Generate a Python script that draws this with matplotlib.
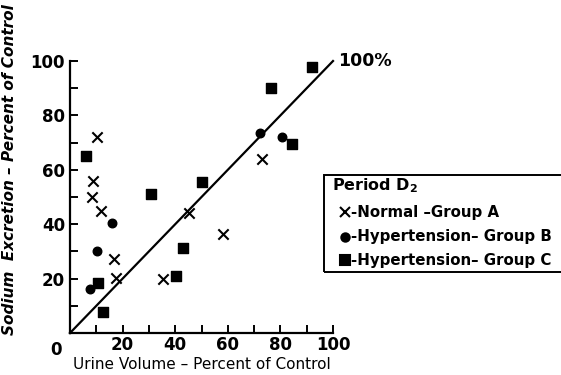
import numpy as np
import matplotlib.pyplot as plt
from matplotlib.patches import Rectangle

# === DATA ===
# Group A - normal (crosses)
a_x = [10.1, 8.9, 8.2, 11.8, 16.7, 17.5, 35.5, 45.2, 58.3, 73.1]
a_y = [72.1, 55.9, 50.1, 45.0, 27.3, 20.4, 19.9, 44.0, 36.4, 63.9]
# Group B - hypertension (dots)
b_x = [16.1, 10.1, 7.6, 72.2, 80.5]
b_y = [40.3, 30.3, 16.3, 73.7, 71.9]
# Group C - hypertension (squares)
c_x = [6.1, 10.5, 12.7, 30.8, 43.1, 40.3, 50.1, 76.3, 84.4, 92.1]
c_y = [64.9, 18.5, 7.9, 51.1, 31.1, 20.8, 55.4, 90.2, 69.4, 97.7]

ticks = [20, 40, 60, 80, 100]
line_x = [0, 100]

# === FIGURE ===
fig = plt.figure(figsize=(5.61, 3.75), dpi=100)
ax = fig.add_axes([0.1248, 0.112, 0.4688, 0.7253])

ax.plot(line_x, line_x, color="black", lw=1.6, clip_on=False)
ax.scatter(a_x, a_y, marker="x", s=55, color="black", linewidths=1.5, clip_on=False)
ax.scatter(b_x, b_y, marker="o", s=38, color="black", clip_on=False)
ax.scatter(c_x, c_y, marker="s", s=60, color="black", clip_on=False)

ax.set_xlim(0, 100)
ax.set_ylim(0, 100)
ax.spines["top"].set_visible(False)
ax.spines["right"].set_visible(False)
for sp in ["left", "bottom"]:
    ax.spines[sp].set_linewidth(1.6)

ax.set_xticks(ticks)
ax.set_yticks(ticks)
ax.set_xticks(np.arange(10, 101, 20), minor=True)
ax.set_yticks(np.arange(10, 101, 20), minor=True)
ax.tick_params(which="both", direction="in", length=6, width=1.4)
ax.tick_params(axis="x", pad=2)
ax.tick_params(labelsize=12)
for lab in ax.get_xticklabels() + ax.get_yticklabels():
    lab.set_fontweight("bold")

ax.text(-3, -3, "0", ha="right", va="top", fontsize=12, fontweight="bold")
ax.text(102, 100, "100%", ha="left", va="center", fontsize=12.5, fontweight="bold")

ax.set_xlabel("Urine Volume \u2013 Percent of Control", fontsize=11)
ax.xaxis.set_label_coords(0.5, -0.088)
ax.set_ylabel("Sodium  Excretion \u2013 Percent of Control", fontsize=11,
              style="italic", fontweight="bold")
ax.yaxis.set_label_coords(-0.2, 0.6)

# === LEGEND BOX ===
box = Rectangle((324 / 561, 1 - 272 / 375), 0.5, 97 / 375,
                transform=fig.transFigure, fill=False, lw=1.4, clip_on=False)
fig.patches.append(box)
fig.text(332 / 561, 1 - 186 / 375, r"Period D$_\mathbf{2}$", fontsize=11.5,
         fontweight="bold", va="center")
rows = [("x", "-Normal \u2013Group A", 212),
        ("o", "-Hypertension\u2013 Group B", 237),
        ("s", "-Hypertension\u2013 Group C", 260)]
for mk, txt, yp in rows:
    y = 1 - yp / 375
    fig.lines.append(plt.Line2D([345 / 561], [y], marker=mk, color="black",
                                markersize=7 if mk != "o" else 6,
                                markeredgewidth=1.5, transform=fig.transFigure))
    fig.text(351 / 561, y, txt, fontsize=10.8, fontweight="bold", va="center")

fig.savefig("out.png", dpi=100)
